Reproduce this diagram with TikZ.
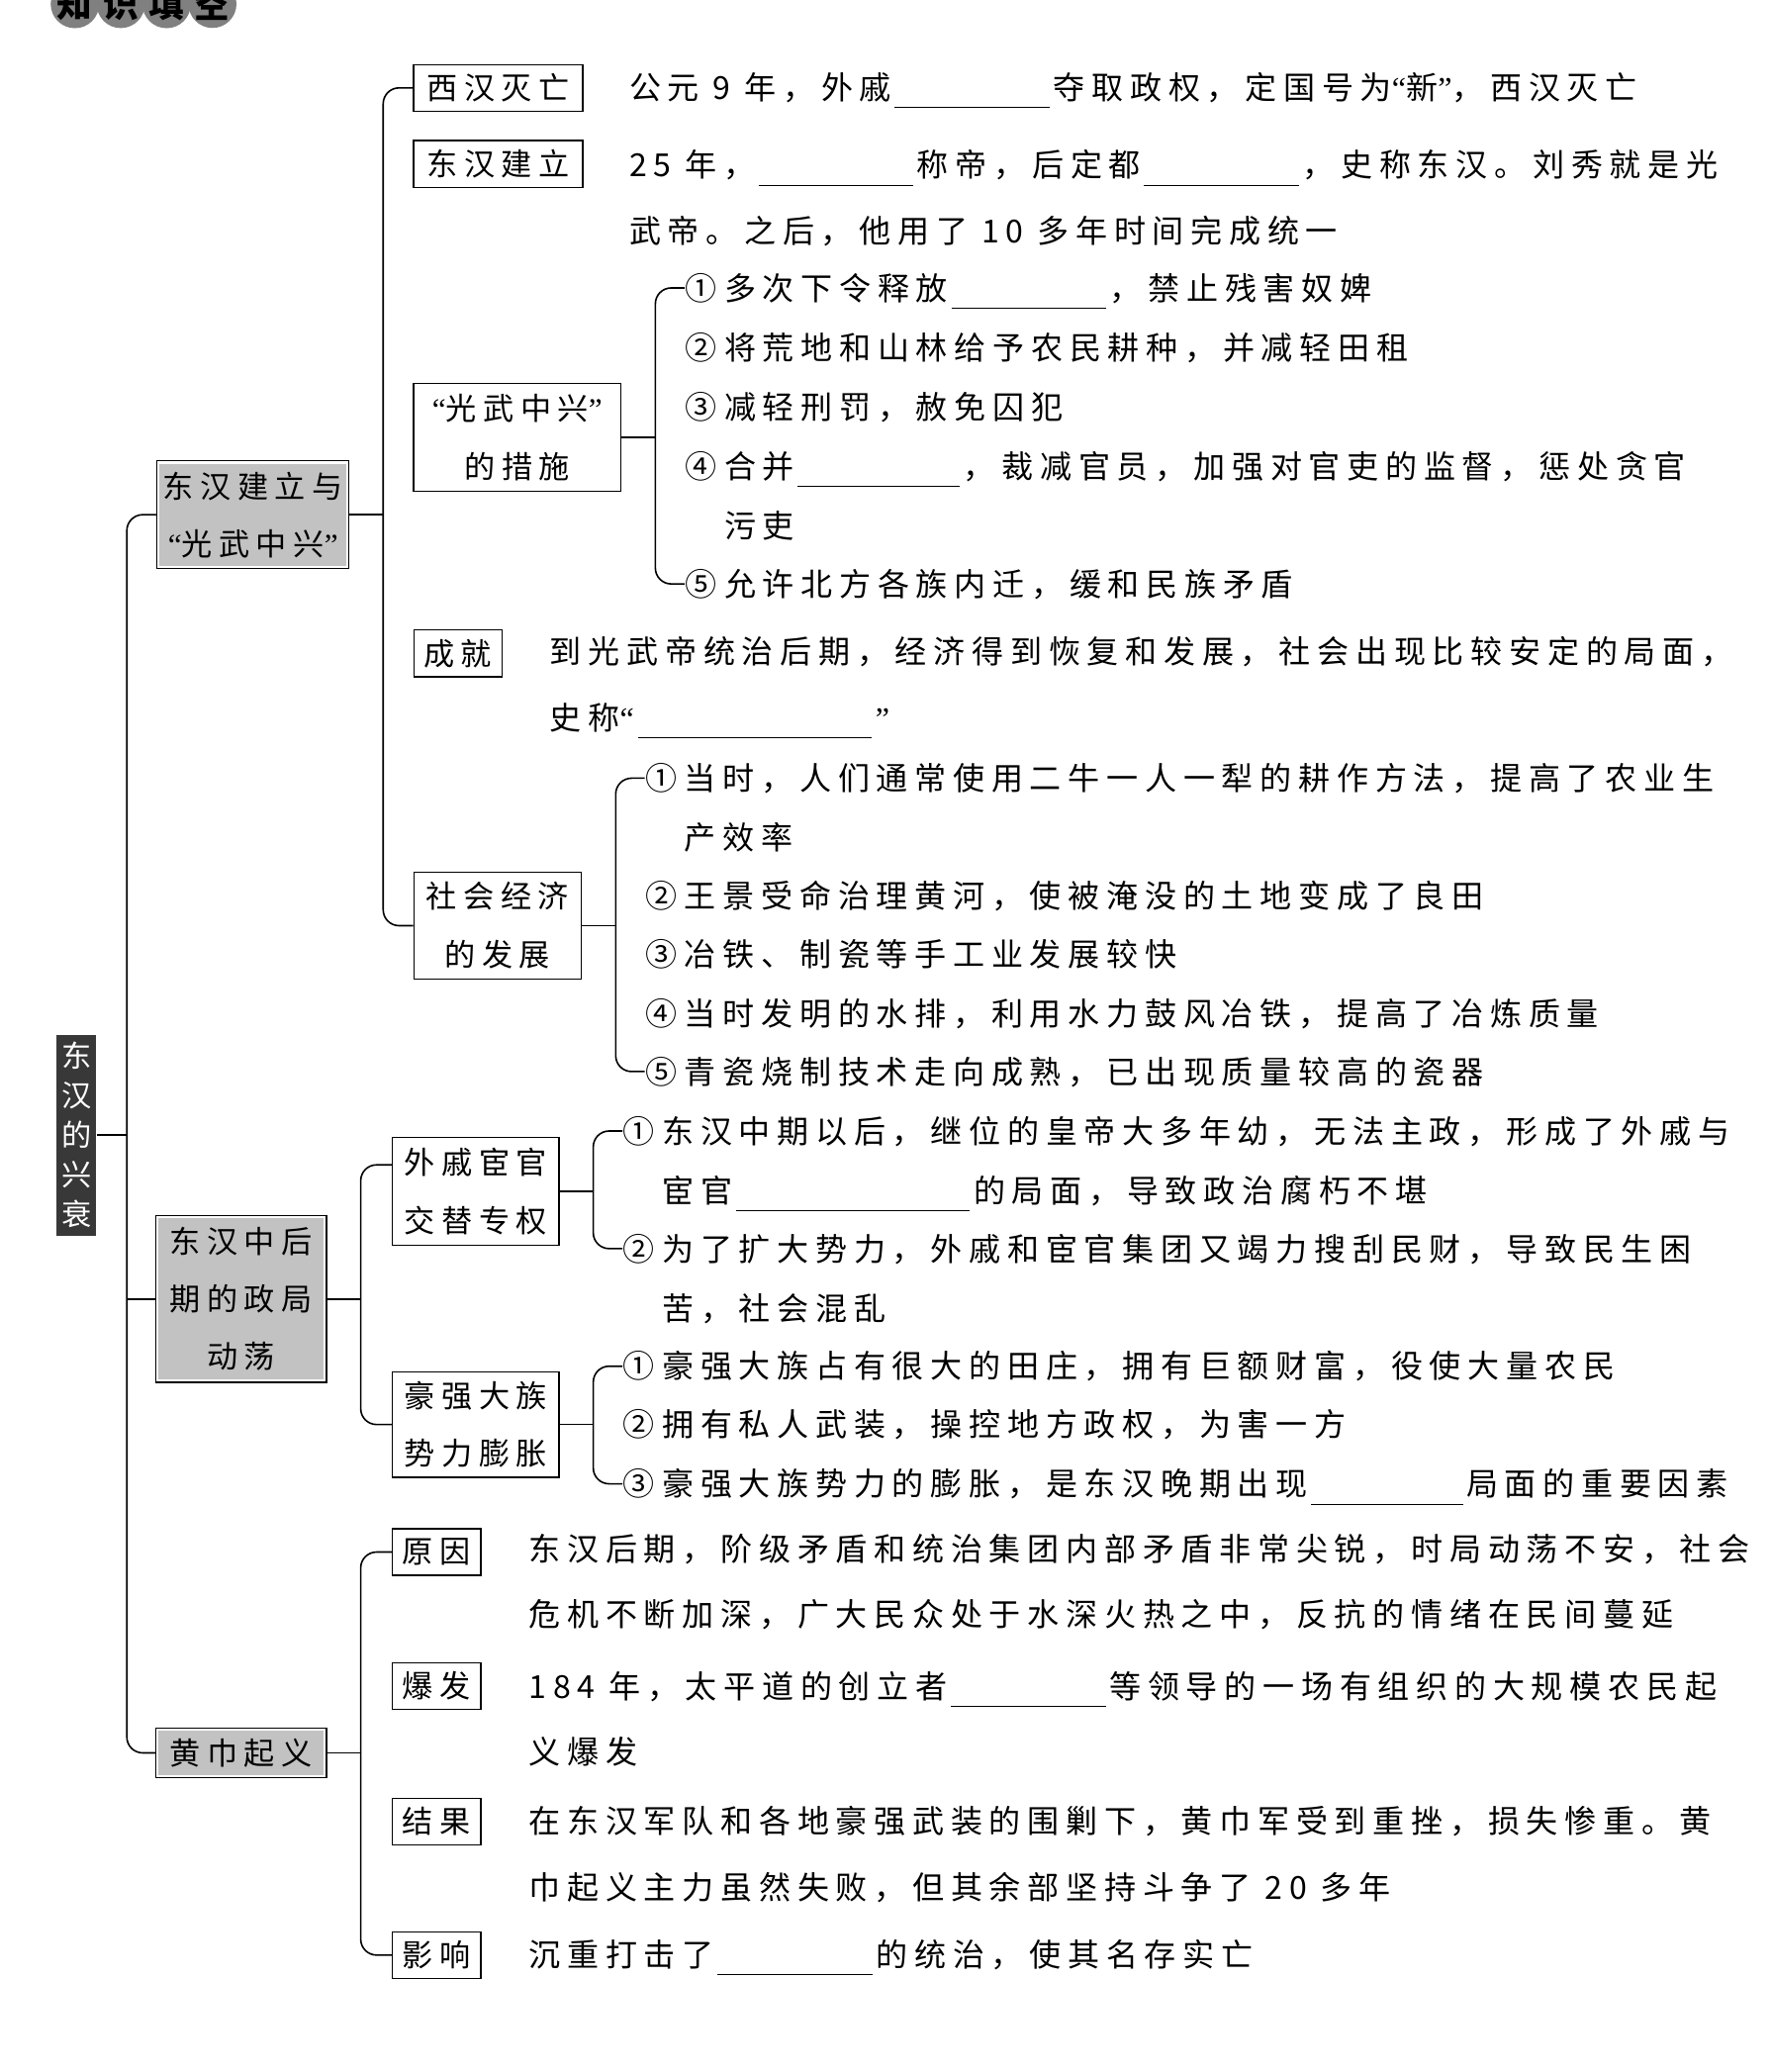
\documentclass[tikz,border=0pt]{standalone}
\usepackage{fontspec}
\setmainfont{Noto Sans CJK SC}
\newfontfamily\zhfont[LetterSpace=21]{Noto Sans CJK SC}
\newfontfamily\qfont{Liberation Serif}
\usetikzlibrary{positioning}
\newcommand\blank[1][88pt]{\hspace{2pt}\rule[-5pt]{#1}{0.6pt}\hspace{2pt}}
\newcommand\oq{{\qfont “}}
\newcommand\cq{{\qfont ”}}

\begin{document}
\begin{tikzpicture}[
  x=0.75pt, y=-0.75pt,
  link/.style={line width=0.9pt, rounded corners=9pt},
  badge/.style={
    circle,
    fill=black!50,
    minimum size=27pt,
    inner sep=0pt,
    font=\zhfont\bfseries\fontsize{20}{20}\selectfont
  },
  rootbox/.style={
    fill=black!78,
    text=white,
    align=center,
    inner sep=0pt,
    minimum width=22.5pt,
    minimum height=114pt,
    font=\zhfont\fontsize{17}{22.5}\selectfont
  },
  topic/.style={
    fill=black!24,
    postaction={draw=white, line width=3pt},
    postaction={draw=black, line width=0.7pt},
    align=center,
    inner sep=0pt,
    font=\zhfont\fontsize{17.5}{32.5}\selectfont
  },
  tagbox/.style={
    draw,
    line width=0.7pt,
    fill=white,
    align=center,
    inner sep=0pt,
    minimum height=26.5pt,
    font=\zhfont\fontsize{17.5}{33}\selectfont
  },
  num/.style={
    anchor=base west,
    inner sep=0pt,
    font=\zhfont\fontsize{18}{33.75}\selectfont
  },
  itemtext/.style={
    anchor=base west,
    align=left,
    inner sep=0pt,
    font=\zhfont\fontsize{18}{33.75}\selectfont
  },
  para/.style={
    anchor=base west,
    align=left,
    inner sep=0pt,
    font=\zhfont\fontsize{18}{37.5}\selectfont
  }
]
\useasboundingbox (0,0) rectangle (1340,1568);
\clip (0,0) rectangle (1340,1568);

\foreach \ch [count=\i] in {知,识,填,空} {
  \node[badge] (bd\i) at (22+34.7*\i, 3) {\ch};
}

\node[rootbox] (root) at (58,859) {东\\汉\\的\\兴\\衰};

\node[topic, minimum width=109pt, minimum height=61pt] (dhgw) at (191.5,389.5) {东汉建立与\\\oq 光武中兴\cq};
\node[topic, minimum width=97pt, minimum height=94.5pt] (dhzh) at (182.5,983) {东汉中后\\期的政局\\动荡};
\node[topic, minimum width=97pt, minimum height=28pt] (hjqy) at (182.5,1326.5) {黄巾起义};

\node[tagbox, minimum width=96pt] (xhmw) at (377,66.5) {西汉灭亡};
\node[tagbox, minimum width=96pt] (dhjl) at (377,124) {东汉建立};
\node[tagbox, minimum width=117.75pt, minimum height=61.5pt] (gwzx) at (391.5,331) {\oq 光武中兴\cq\\的措施};
\node[tagbox, minimum width=50pt] (cj) at (346.5,494.5) {成就};
\node[tagbox, minimum width=95pt, minimum height=61pt] (shjj) at (376.5,700.5) {社会经济\\的发展};
\node[tagbox, minimum width=94.5pt, minimum height=61pt] (wqhg) at (360,901.5) {外戚宦官\\交替专权};
\node[tagbox, minimum width=94.5pt, minimum height=60pt] (hqdz) at (360,1078) {豪强大族\\势力膨胀};
\node[tagbox, minimum width=50pt] (yyb) at (330.5,1174.5) {原因};
\node[tagbox, minimum width=50pt] (bfb) at (330.5,1276) {爆发};
\node[tagbox, minimum width=50pt] (jgb) at (330.5,1378.5) {结果};
\node[tagbox, minimum width=50pt] (yxb) at (330.5,1479.5) {影响};

\node[para] (xhmwt) at (476,75) {公元 9 年，外戚\blank 夺取政权，定国号为\oq 新\cq ，西汉灭亡};
\node[para] (dhjlt) at (476,184) {25 年，\blank 称帝，后定都\blank ，史称东汉。刘秀就是光\\武帝。之后，他用了 10 多年时间完成统一};
\node[para] (cjt) at (416,552) {到光武帝统治后期，经济得到恢复和发展，社会出现比较安定的局面，\\史称\oq\blank[133pt]\cq};

\node[num] (cs1) at (518,227) {①};
\node[itemtext] (cs1t) at ([xshift=4pt]cs1.base east) {多次下令释放\blank ，禁止残害奴婢};
\node[num] (cs2) at (518,272) {②};
\node[itemtext] (cs2t) at ([xshift=4pt]cs2.base east) {将荒地和山林给予农民耕种，并减轻田租};
\node[num] (cs3) at (518,317) {③};
\node[itemtext] (cs3t) at ([xshift=4pt]cs3.base east) {减轻刑罚，赦免囚犯};
\node[num] (cs4) at (518,362) {④};
\node[itemtext] (cs4t) at ([xshift=4pt,yshift=-33.75pt]cs4.base east) {合并\blank[92pt]，裁减官员，加强对官吏的监督，惩处贪官\\污吏};
\node[num] (cs5) at (518,451) {⑤};
\node[itemtext] (cs5t) at ([xshift=4pt]cs5.base east) {允许北方各族内迁，缓和民族矛盾};

\node[num] (jj1) at (488,598) {①};
\node[itemtext] (jj1t) at ([xshift=4pt,yshift=-33.75pt]jj1.base east) {当时，人们通常使用二牛一人一犁的耕作方法，提高了农业生\\产效率};
\node[num] (jj2) at (488,687) {②};
\node[itemtext] (jj2t) at ([xshift=4pt]jj2.base east) {王景受命治理黄河，使被淹没的土地变成了良田};
\node[num] (jj3) at (488,731) {③};
\node[itemtext] (jj3t) at ([xshift=4pt]jj3.base east) {冶铁、制瓷等手工业发展较快};
\node[num] (jj4) at (488,776) {④};
\node[itemtext] (jj4t) at ([xshift=4pt]jj4.base east) {当时发明的水排，利用水力鼓风冶铁，提高了冶炼质量};
\node[num] (jj5) at (488,820) {⑤};
\node[itemtext] (jj5t) at ([xshift=4pt]jj5.base east) {青瓷烧制技术走向成熟，已出现质量较高的瓷器};

\node[num] (wq1) at (471,865) {①};
\node[itemtext] (wq1t) at ([xshift=4pt,yshift=-33.75pt]wq1.base east) {东汉中期以后，继位的皇帝大多年幼，无法主政，形成了外戚与\\宦官\blank[133pt]的局面，导致政治腐朽不堪};
\node[num] (wq2) at (471,954) {②};
\node[itemtext] (wq2t) at ([xshift=4pt,yshift=-33.75pt]wq2.base east) {为了扩大势力，外戚和宦官集团又竭力搜刮民财，导致民生困\\苦，社会混乱};

\node[num] (hq1) at (471,1043) {①};
\node[itemtext] (hq1t) at ([xshift=4pt]hq1.base east) {豪强大族占有很大的田庄，拥有巨额财富，役使大量农民};
\node[num] (hq2) at (471,1087) {②};
\node[itemtext] (hq2t) at ([xshift=4pt]hq2.base east) {拥有私人武装，操控地方政权，为害一方};
\node[num] (hq3) at (471,1132) {③};
\node[itemtext] (hq3t) at ([xshift=4pt]hq3.base east) {豪强大族势力的膨胀，是东汉晚期出现\blank[86pt]局面的重要因素};

\node[para] (yyt) at (400,1231) {东汉后期，阶级矛盾和统治集团内部矛盾非常尖锐，时局动荡不安，社会\\危机不断加深，广大民众处于水深火热之中，反抗的情绪在民间蔓延};
\node[para] (bft) at (400,1335) {184 年，太平道的创立者\blank 等领导的一场有组织的大规模农民起\\义爆发};
\node[para] (jgt) at (400,1437) {在东汉军队和各地豪强武装的围剿下，黄巾军受到重挫，损失惨重。黄\\巾起义主力虽然失败，但其余部坚持斗争了 20 多年};
\node[para] (yxt) at (400,1488) {沉重打击了\blank 的统治，使其名存实亡};

\coordinate (k0) at (96,859);
\coordinate (k1) at (290,389.5);
\coordinate (k11) at (496,331);
\coordinate (k12) at (466,700.5);
\coordinate (k2) at (273,983);
\coordinate (k21) at (449,901.5);
\coordinate (k22) at (449,1078);
\coordinate (k3) at (273,1326.5);

\draw[link] (root.east) -- (k0);
\draw[link] (dhgw.west) -| (k0) |- (hjqy.west);
\draw[link] (dhzh.west) -- (dhzh.west -| k0);

\draw[link] (dhgw.east) -- (k1);
\draw[link] (xhmw.west) -| (k1) |- (shjj.west);
\draw[link] (gwzx.east) -- (k11);
\draw[link] (cs1.west) -| (k11) |- (cs5.west);
\draw[link] (shjj.east) -- (k12);
\draw[link] (jj1.west) -| (k12) |- (jj5.west);

\draw[link] (dhzh.east) -- (k2);
\draw[link] ([yshift=15pt]wqhg.west) -| (k2) |- (hqdz.west);
\draw[link] (wqhg.east) -- (k21);
\draw[link] (wq1.west) -| (k21) |- (wq2.west);
\draw[link] (hqdz.east) -- (k22);
\draw[link] (hq1.west) -| (k22) |- (hq3.west);

\draw[link] (hjqy.east) -- (k3);
\draw[link] (yyb.west) -| (k3) |- (yxb.west);
\end{tikzpicture}
\end{document}
